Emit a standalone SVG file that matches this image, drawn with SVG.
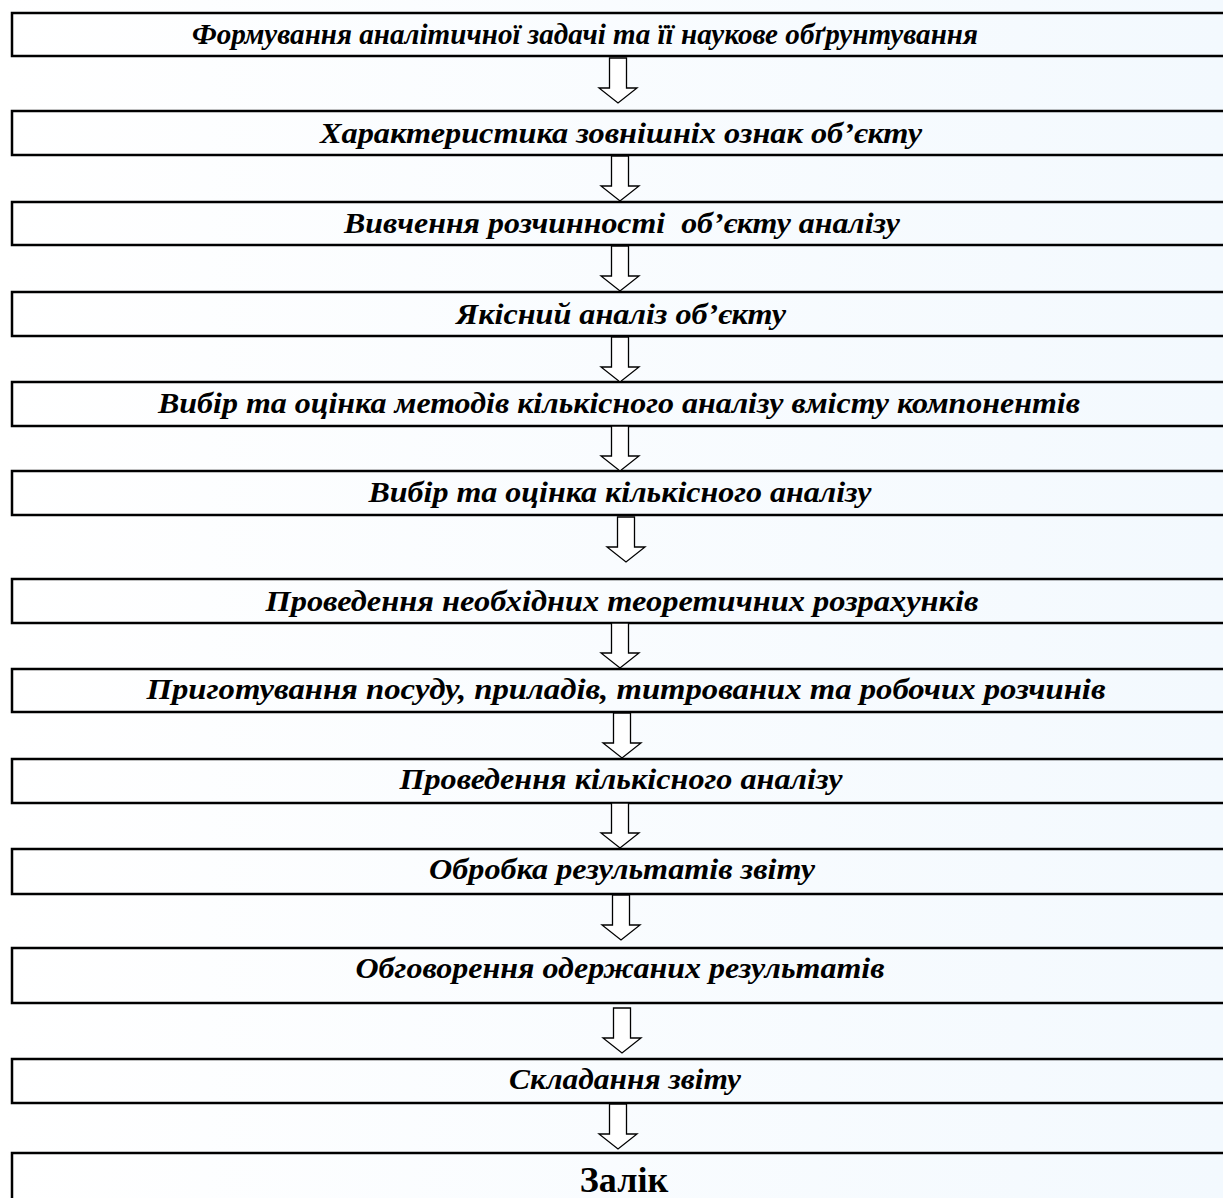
<svg xmlns="http://www.w3.org/2000/svg" width="1223" height="1198" viewBox="0 0 1223 1198">
<defs>
<linearGradient id="bg" x1="0" y1="0" x2="1" y2="0">
<stop offset="0" stop-color="#ffffff"/>
<stop offset="1" stop-color="#f3f9fe"/>
</linearGradient>
<path id="arr" d="M-8.5,0 H8.5 V30 H19 L0,45 L-19,30 H-8.5 Z"/>
</defs>
<style>
.box{fill:none;stroke:#000;stroke-width:2.5}
.t{font-family:"Liberation Serif","Times New Roman",serif;font-weight:bold;font-style:italic;font-size:29px;fill:#000;text-anchor:middle}
.z{font-family:"Liberation Serif","Times New Roman",serif;font-weight:bold;font-size:36px;fill:#000;text-anchor:middle}
.a{fill:#fff;stroke:#000;stroke-width:1.3;stroke-linejoin:miter}
</style>
<rect x="0" y="0" width="1223" height="1198" fill="url(#bg)"/>
<g id="n1"><rect class="box" x="12" y="13" width="1220" height="43"/><text class="t" x="585" y="44" textLength="786" lengthAdjust="spacingAndGlyphs">Формування аналітичної задачі та її наукове обґрунтування</text></g>
<g id="n2"><rect class="box" x="12" y="111" width="1220" height="44"/><text class="t" x="621" y="143" textLength="602" lengthAdjust="spacingAndGlyphs">Характеристика зовнішніх ознак об’єкту</text></g>
<g id="n3"><rect class="box" x="12" y="202" width="1220" height="43"/><text class="t" x="622" y="233" textLength="556" lengthAdjust="spacingAndGlyphs" xml:space="preserve">Вивчення розчинності  об’єкту аналізу</text></g>
<g id="n4"><rect class="box" x="12" y="292" width="1220" height="44"/><text class="t" x="621" y="324" textLength="330" lengthAdjust="spacingAndGlyphs">Якісний аналіз об’єкту</text></g>
<g id="n5"><rect class="box" x="12" y="382" width="1220" height="44"/><text class="t" x="619" y="413" textLength="922" lengthAdjust="spacingAndGlyphs">Вибір та оцінка методів кількісного аналізу вмісту компонентів</text></g>
<g id="n6"><rect class="box" x="12" y="471" width="1220" height="44"/><text class="t" x="620" y="502" textLength="503" lengthAdjust="spacingAndGlyphs">Вибір та оцінка кількісного аналізу</text></g>
<g id="n7"><rect class="box" x="12" y="579" width="1220" height="44"/><text class="t" x="622" y="611" textLength="713" lengthAdjust="spacingAndGlyphs">Проведення необхідних теоретичних розрахунків</text></g>
<g id="n8"><rect class="box" x="12" y="669" width="1220" height="43"/><text class="t" x="626" y="699" textLength="959" lengthAdjust="spacingAndGlyphs">Приготування посуду, приладів, титрованих та робочих розчинів</text></g>
<g id="n9"><rect class="box" x="12" y="759" width="1220" height="44"/><text class="t" x="621" y="789" textLength="443" lengthAdjust="spacingAndGlyphs">Проведення кількісного аналізу</text></g>
<g id="n10"><rect class="box" x="12" y="849" width="1220" height="45"/><text class="t" x="622" y="879" textLength="386" lengthAdjust="spacingAndGlyphs">Обробка результатів звіту</text></g>
<g id="n11"><rect class="box" x="12" y="948" width="1220" height="55"/><text class="t" x="620" y="978" textLength="529" lengthAdjust="spacingAndGlyphs">Обговорення одержаних результатів</text></g>
<g id="n12"><rect class="box" x="12" y="1059" width="1220" height="44"/><text class="t" x="625" y="1089" textLength="232" lengthAdjust="spacingAndGlyphs">Складання звіту</text></g>
<g id="n13"><rect class="box" x="12" y="1153" width="1220" height="60"/><text class="z" x="624" y="1192">Залік</text></g>
<g id="connectors">
<use class="a" href="#arr" transform="translate(618,58)"/>
<use class="a" href="#arr" transform="translate(620,156)"/>
<use class="a" href="#arr" transform="translate(620,246)"/>
<use class="a" href="#arr" transform="translate(620,337)"/>
<use class="a" href="#arr" transform="translate(620,426)"/>
<use class="a" href="#arr" transform="translate(626,517)"/>
<use class="a" href="#arr" transform="translate(620,623)"/>
<use class="a" href="#arr" transform="translate(622,713)"/>
<use class="a" href="#arr" transform="translate(620,803)"/>
<use class="a" href="#arr" transform="translate(621,895)"/>
<use class="a" href="#arr" transform="translate(622,1008)"/>
<use class="a" href="#arr" transform="translate(618,1104)"/>
</g>
</svg>
